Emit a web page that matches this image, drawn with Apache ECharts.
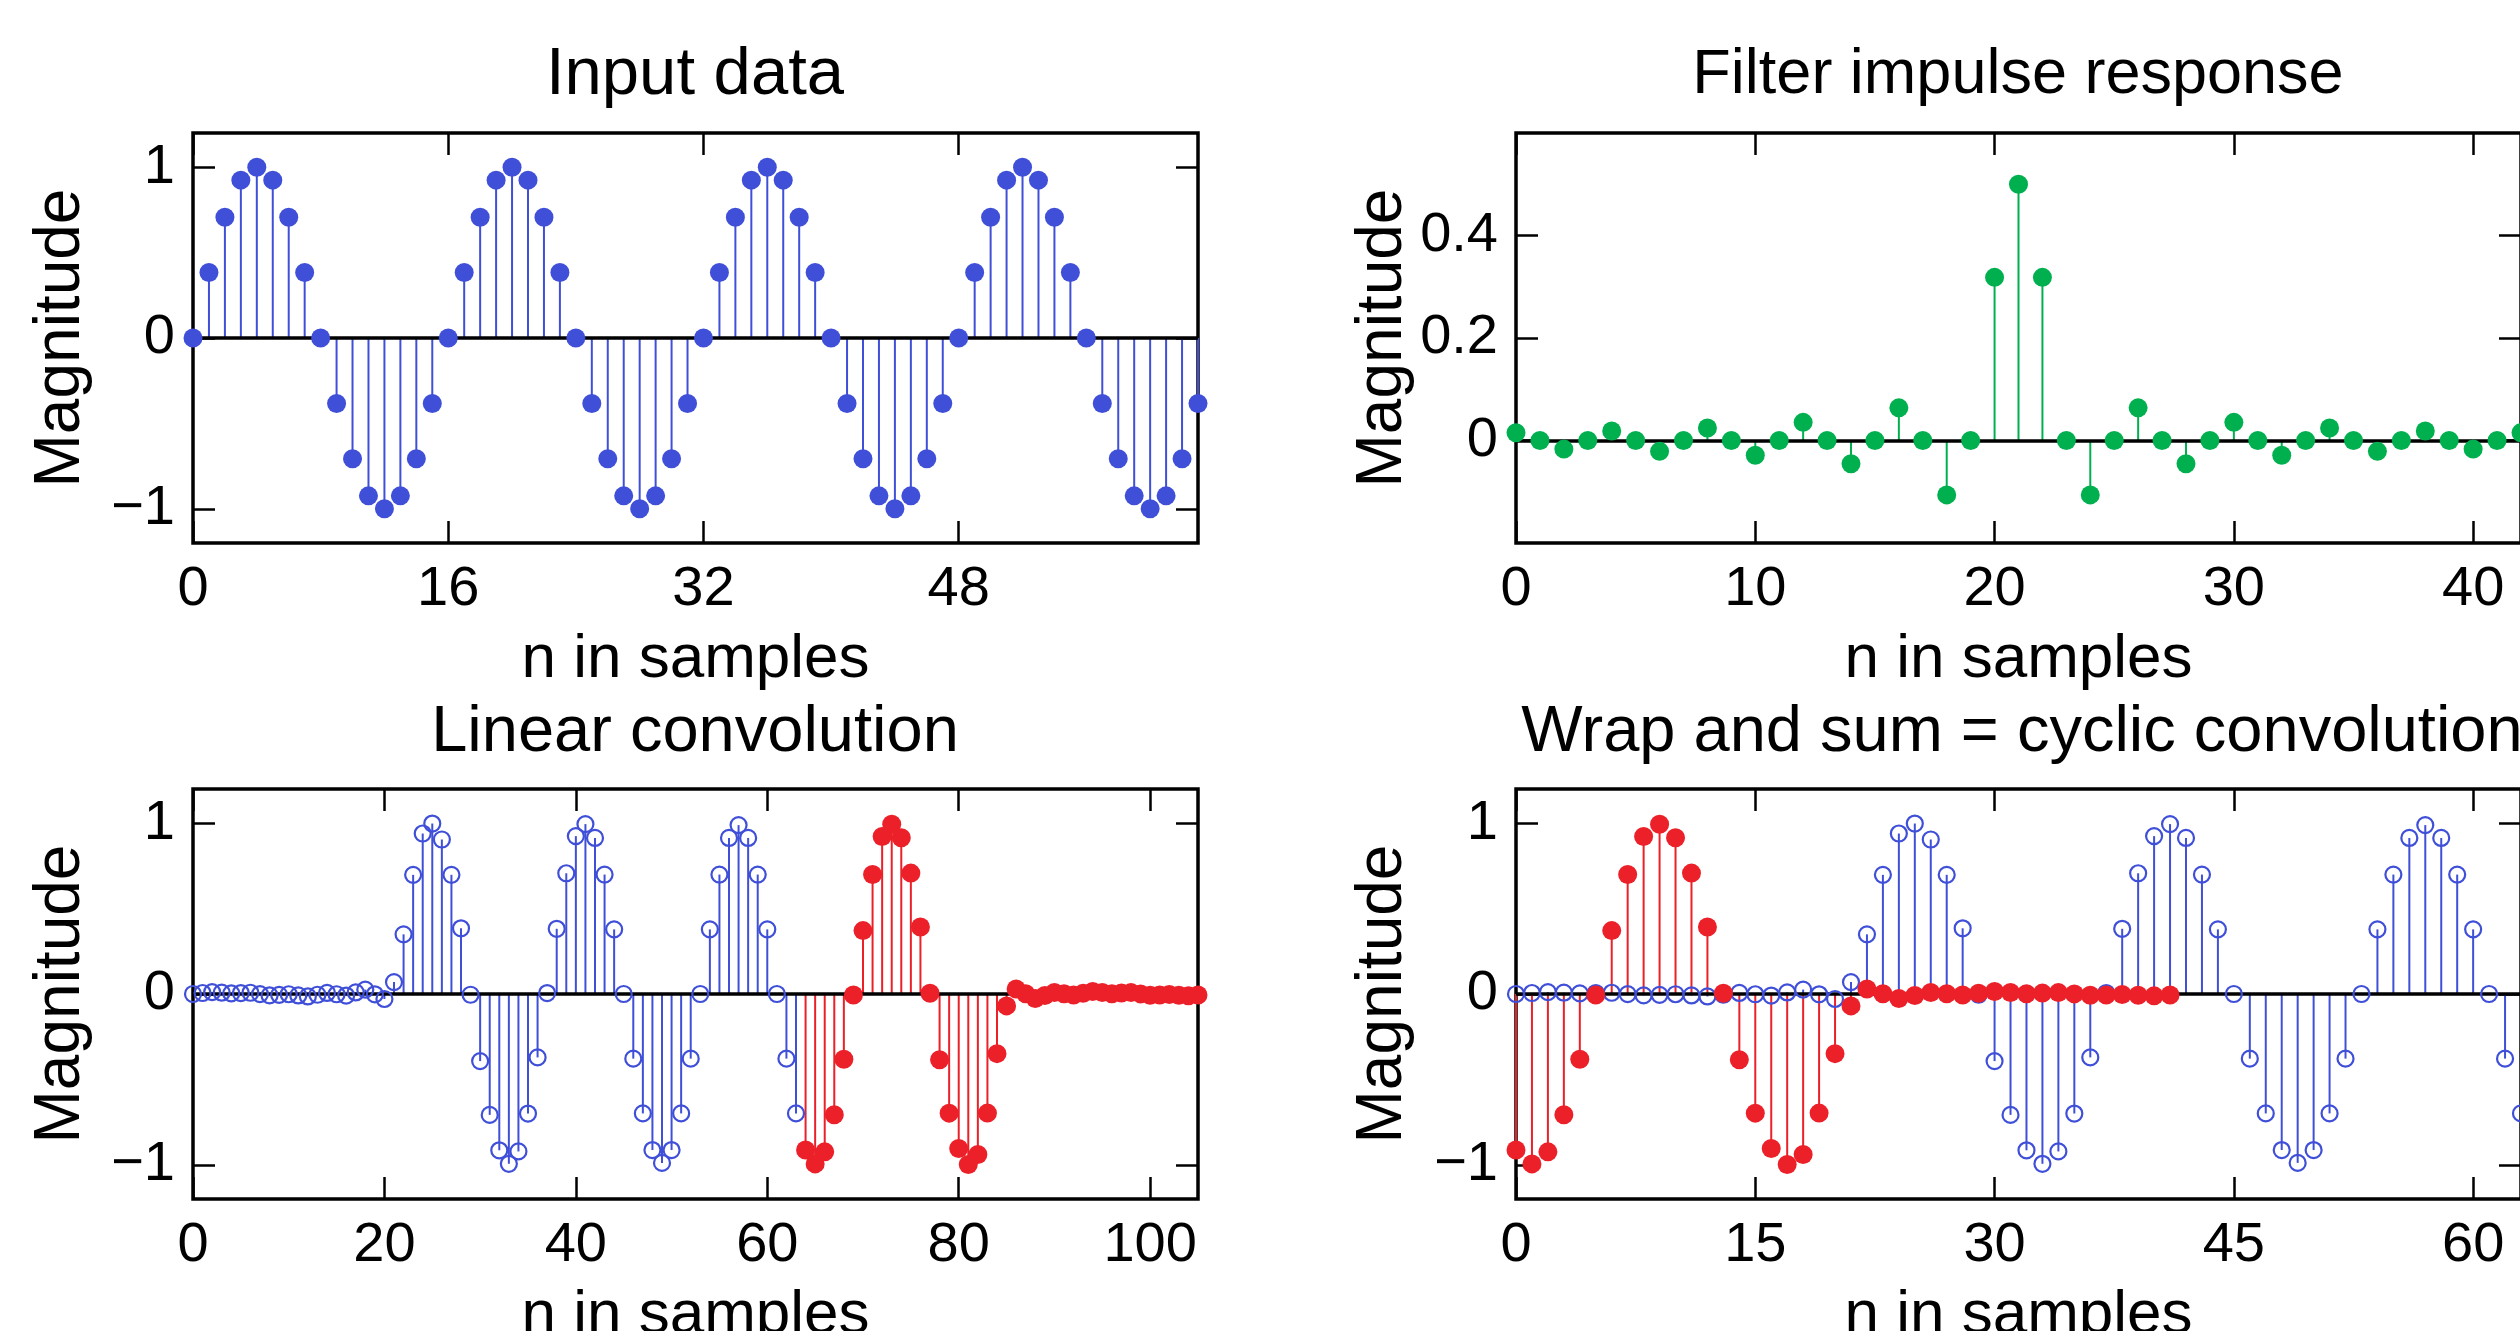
<!DOCTYPE html>
<html>
<head>
<meta charset="utf-8">
<title>Convolution</title>
<script src="https://cdn.jsdelivr.net/npm/echarts@6/dist/echarts.min.js"></script>
<style>
  html, body { margin: 0; padding: 0; background: #fff; }
  #chart { width: 2520px; height: 1331px; }
</style>
</head>
<body>
<div id="chart"></div>
<script>
  // input sine, period 16
  var inputData = [
    0, 0.383, 0.707, 0.924, 1, 0.924, 0.707, 0.383, 0, -0.383, -0.707, -0.924, -1, -0.924, -0.707, -0.383,
    0, 0.383, 0.707, 0.924, 1, 0.924, 0.707, 0.383, 0, -0.383, -0.707, -0.924, -1, -0.924, -0.707, -0.383,
    0, 0.383, 0.707, 0.924, 1, 0.924, 0.707, 0.383, 0, -0.383, -0.707, -0.924, -1, -0.924, -0.707, -0.383,
    0, 0.383, 0.707, 0.924, 1, 0.924, 0.707, 0.383, 0, -0.383, -0.707, -0.924, -1, -0.924, -0.707, -0.383
  ]
  // filter taps, n = 0..42
  var filterTaps = [
    0.0152, 0, -0.0168, 0, 0.0187, 0, -0.0212, 0, 0.0245, 0, -0.0289, 0, 0.0354, 0, -0.0455, 0,
    0.0637, 0, -0.1061, 0, 0.3183, 0.5, 0.3183, 0, -0.1061, 0, 0.0637, 0, -0.0455, 0, 0.0354, 0,
    -0.0289, 0, 0.0245, 0, -0.0212, 0, 0.0187, 0, -0.0168, 0, 0.0152
  ]
  // linear convolution, n = 0..63 (blue)
  var convHead = [
    0, 0.0058, 0.0107, 0.0076, 0.0033, 0.0057, 0.0072, -0.0005, -0.0081, -0.0051, -0.0014, -0.0085,
    -0.0143, -0.0044, 0.0062, -0.0016, -0.0091, 0.0091, 0.0259, -0.0018, -0.0292, 0.0696, 0.3492, 0.6974,
    0.9394, 0.9979, 0.9044, 0.6976, 0.3846, -0.0044, -0.3927, -0.7076, -0.9149, -0.9939, -0.9216, -0.6997,
    -0.3712, 0.0057, 0.3817, 0.7067, 0.9242, 0.9946, 0.9134, 0.6991, 0.3783, 0, -0.3783, -0.6991,
    -0.9134, -0.9886, -0.9134, -0.6991, -0.3783, 0, 0.3783, 0.6991, 0.9134, 0.9886, 0.9134, 0.6991,
    0.3783, 0, -0.3783, -0.6991
  ]
  // linear convolution, n = 64..105 (red, wrapped to 0..41)
  var convTail = [
    -0.9134, -0.9944, -0.9241, -0.7067, -0.3816, -0.0057, 0.3711, 0.6996, 0.9215, 0.9938, 0.9148, 0.7076,
    0.3926, 0.0044, -0.3845, -0.6975, -0.9043, -0.9977, -0.9393, -0.6973, -0.3491, -0.0696, 0.0292, 0.0017,
    -0.0261, -0.0092, 0.0090, 0.0015, -0.0062, 0.0044, 0.0143, 0.0086, 0.0015, 0.0053, 0.0082, 0.0006,
    -0.0072, -0.0057, -0.0034, -0.0077, -0.0108, -0.0059
  ]

  var xTicksInput = [0, 16, 32, 48]
  var xTicksFilter = [0, 10, 20, 30, 40]
  var xTicksLinear = [0, 20, 40, 60, 80, 100]
  var xTicksCyclic = [0, 15, 30, 45, 60]
  var yTicksUnit = [-1, 0, 1]
  var yTicksFilter = [0, 0.2, 0.4]

  var BLUE = '#3F4FD8'
  var GREEN = '#00B04F'
  var RED = '#EC2029'
  var FONT = "'Liberation Sans', Arial, sans-serif"

  var grids = [
    {left: 193, top: 133, width: 1005, height: 410},
    {left: 1516, top: 133, width: 1005, height: 410},
    {left: 193, top: 789, width: 1005, height: 410},
    {left: 1516, top: 789, width: 1005, height: 410}
  ]

  function fmt(v) {
    return v < 0 ? '\u2212' + Math.abs(v) : String(v)
  }

  function toPts(arr, offset) {
    return arr.map(function (v, i) { return [i + offset, v] })
  }

  var tickStyle = {color: '#000', width: 2.5}
  var xAxes = []
  var yAxes = []

  function addAxes(g, xMax, xTicks, yMin, yMax, yTicks, yNameGap) {
    xAxes.push({
      gridIndex: g, type: 'value', position: 'bottom', min: 0, max: xMax,
      axisLine: {show: false, onZero: false},
      axisTick: {show: true, inside: true, length: 22, customValues: xTicks, lineStyle: tickStyle},
      axisLabel: {show: true, customValues: xTicks, formatter: fmt, margin: 19, fontSize: 56, color: '#000', fontFamily: FONT},
      splitLine: {show: false},
      name: 'n in samples', nameLocation: 'middle', nameGap: 86,
      nameTextStyle: {fontSize: 62, color: '#000', fontFamily: FONT}
    })
    xAxes.push({
      gridIndex: g, type: 'value', position: 'top', min: 0, max: xMax,
      axisLine: {show: false, onZero: false},
      axisTick: {show: true, inside: true, length: 22, customValues: xTicks, lineStyle: tickStyle},
      axisLabel: {show: false},
      splitLine: {show: false}
    })
    yAxes.push({
      gridIndex: g, type: 'value', position: 'left', min: yMin, max: yMax,
      axisLine: {show: false, onZero: false},
      axisTick: {show: true, inside: true, length: 22, customValues: yTicks, lineStyle: tickStyle},
      axisLabel: {show: true, customValues: yTicks, formatter: fmt, margin: 18, fontSize: 56, color: '#000', fontFamily: FONT},
      splitLine: {show: false},
      name: 'Magnitude', nameLocation: 'middle', nameRotate: 90, nameGap: yNameGap,
      nameTextStyle: {fontSize: 64, color: '#000', fontFamily: FONT}
    })
    yAxes.push({
      gridIndex: g, type: 'value', position: 'right', min: yMin, max: yMax,
      axisLine: {show: false, onZero: false},
      axisTick: {show: true, inside: true, length: 22, customValues: yTicks, lineStyle: tickStyle},
      axisLabel: {show: false},
      splitLine: {show: false}
    })
  }

  addAxes(0, 63, xTicksInput, -1.2, 1.2, yTicksUnit, 100)
  addAxes(1, 42, xTicksFilter, -0.2, 0.6, yTicksFilter, 101)
  addAxes(2, 105, xTicksLinear, -1.2, 1.2, yTicksUnit, 100)
  addAxes(3, 63, xTicksCyclic, -1.2, 1.2, yTicksUnit, 101)

  var series = []

  // stem = thin bar + marker
  function addStem(g, pts, color, hollow, baseline) {
    var bar = {
      type: 'bar', xAxisIndex: g * 2, yAxisIndex: g * 2, data: pts,
      barWidth: 2, barGap: '-100%', itemStyle: {color: color, opacity: 1}, silent: true, z: 2
    }
    if (baseline) {
      bar.markLine = {
        silent: true, symbol: ['none', 'none'], label: {show: false},
        lineStyle: {color: '#000', width: 3.5, type: 'solid', opacity: 1},
        data: [{yAxis: 0}]
      }
    }
    series.push(bar)
    series.push({
      type: 'scatter', xAxisIndex: g * 2, yAxisIndex: g * 2, data: pts,
      symbol: 'circle', symbolSize: hollow ? 16 : 19, clip: false, silent: true, z: 5,
      itemStyle: hollow
        ? {color: 'rgba(255,255,255,0)', borderColor: color, borderWidth: 2.2, opacity: 1}
        : {color: color, opacity: 1}
    })
  }

  addStem(0, toPts(inputData, 0), BLUE, false, true)
  addStem(1, toPts(filterTaps, 0), GREEN, false, true)
  addStem(2, toPts(convHead, 0), BLUE, true, true)
  addStem(2, toPts(convTail, 64), RED, false, false)
  addStem(3, toPts(convHead, 0), BLUE, true, true)
  addStem(3, toPts(convTail, 0), RED, false, false)

  function titleStyle(size) {
    return {fontSize: size, fontWeight: 'normal', color: '#000', fontFamily: FONT}
  }

  var option = {
    backgroundColor: '#fff',
    animation: false,
    title: [
      {text: 'Input data', left: 695, top: 42, padding: 0, textAlign: 'center', textStyle: titleStyle(67)},
      {text: 'Filter impulse response', left: 2018, top: 44, padding: 0, textAlign: 'center', textStyle: titleStyle(63)},
      {text: 'Linear convolution', left: 695, top: 701, padding: 0, textAlign: 'center', textStyle: titleStyle(65)},
      {text: 'Wrap and sum = cyclic convolution', left: 2022, top: 701, padding: 0, textAlign: 'center', textStyle: titleStyle(65)}
    ],
    grid: grids.map(function (g) {
      return {left: g.left, top: g.top, width: g.width, height: g.height, show: true,
        outerBoundsMode: 'none', containLabel: false,
        borderColor: '#000', borderWidth: 3.5, backgroundColor: 'transparent'}
    }),
    xAxis: xAxes,
    yAxis: yAxes,
    series: series
  }

  var myChart = echarts.init(document.getElementById('chart'))
  myChart.setOption(option)
</script>
</body>
</html>
